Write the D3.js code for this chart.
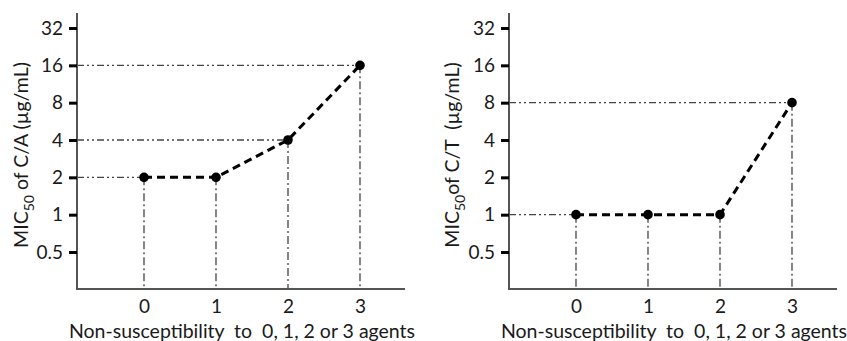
<!DOCTYPE html>
<html>
<head>
<meta charset="utf-8">
<script src="https://cdn.jsdelivr.net/npm/d3@7"></script>
<style>
  html, body { margin: 0; padding: 0; background: #fff; }
  svg { display: block; }
  text { font-family: Lato, "Open Sans", sans-serif; fill: #1a1a1a; }
</style>
</head>
<body>
<svg id="chart" width="847" height="341"></svg>
<script>
// ---- data ----
const categories = [0, 1, 2, 3];
const micCA = [2, 2, 4, 16];
const micCT = [1, 1, 1, 8];
const yTicks = [0.5, 1, 2, 4, 8, 16, 32];
const xTitle = "Non-susceptibility  to  0, 1, 2 or 3 agents";
const panels = [
  { values: micCA, pre: "MIC", sub: "50", post: " of C/A (µg/mL)" },
  { values: micCT, pre: "MIC", sub: "50", post: "of C/T  (µg/mL)" }
];

// ---- layout ----
const svg = d3.select("#chart");
const panelOffset = 432;
const axisX = 77, axisRight = 405, axisBottom = 289, axisTop = 13;
const axisColor = "#555";
const refColor = "#444";

panels.forEach((p, i) => {
  const g = svg.append("g").attr("transform", `translate(${i * panelOffset},0)`);

  const x = d3.scaleLinear().domain([0, 3]).range([144, 360]);
  const y = d3.scaleLog().base(2).domain([0.5, 32]).range([252, 28]);

  // reference lines
  const seen = new Set();
  categories.forEach((c, j) => {
    const v = p.values[j];
    if (!seen.has(v)) {
      seen.add(v);
      g.append("line")
        .attr("x1", axisX).attr("x2", x(c))
        .attr("y1", y(v)).attr("y2", y(v))
        .attr("stroke", refColor).attr("stroke-width", 1.3)
        .attr("stroke-dasharray", "7,3,2,3,2,3");
    }
    g.append("line")
      .attr("x1", x(c)).attr("x2", x(c))
      .attr("y1", y(v)).attr("y2", axisBottom)
      .attr("stroke", refColor).attr("stroke-width", 1.3)
      .attr("stroke-dasharray", "8,3,2,3");
  });

  // axes lines
  g.append("line")
    .attr("x1", axisX).attr("x2", axisX)
    .attr("y1", axisTop).attr("y2", axisBottom)
    .attr("stroke", axisColor).attr("stroke-width", 2);
  g.append("line")
    .attr("x1", axisX - 1).attr("x2", axisRight)
    .attr("y1", axisBottom).attr("y2", axisBottom)
    .attr("stroke", axisColor).attr("stroke-width", 2);

  // y ticks
  const yAxis = g.append("g").attr("transform", `translate(${axisX},0)`)
    .call(d3.axisLeft(y).tickValues(yTicks).tickFormat(d => String(d)).tickSize(8).tickPadding(6));
  yAxis.select(".domain").remove();
  yAxis.selectAll(".tick line").attr("stroke", "#000").attr("stroke-width", 3);
  yAxis.selectAll(".tick text").style("font-size", "19px").style("font-family", "Lato, sans-serif").attr("fill", "#1a1a1a");

  // x tick labels
  const xAxis = g.append("g").attr("transform", `translate(0,${axisBottom})`)
    .call(d3.axisBottom(x).tickValues(categories).tickFormat(d3.format("d")).tickSize(0).tickPadding(11));
  xAxis.select(".domain").remove();
  xAxis.selectAll(".tick text").style("font-size", "19px").style("font-family", "Lato, sans-serif").attr("fill", "#1a1a1a");

  // main dashed line
  const line = d3.line().x((d, j) => x(categories[j])).y(d => y(d));
  g.append("path")
    .datum(p.values)
    .attr("d", line)
    .attr("fill", "none")
    .attr("stroke", "#000")
    .attr("stroke-width", 3)
    .attr("stroke-dasharray", "8,5");

  // dots
  g.selectAll("circle.pt").data(p.values).enter().append("circle")
    .attr("class", "pt")
    .attr("cx", (d, j) => x(categories[j]))
    .attr("cy", d => y(d))
    .attr("r", 4.8)
    .attr("fill", "#000");

  // x title
  g.append("text")
    .attr("x", 242).attr("y", 338)
    .attr("text-anchor", "middle")
    .style("font-size", "19.5px")
    .style("white-space", "pre")
    .attr("xml:space", "preserve")
    .text(xTitle);

  // y title
  const t = g.append("text")
    .attr("transform", `translate(${i === 0 ? 28 : 27},155) rotate(-90)`)
    .attr("text-anchor", "middle")
    .style("font-size", "19.5px")
    .style("white-space", "pre")
    .attr("xml:space", "preserve");
  t.append("tspan").text(p.pre);
  t.append("tspan").attr("dy", 6).style("font-size", "14px").text(p.sub);
  t.append("tspan").attr("dy", -6).text(p.post);
});
</script>
</body>
</html>
